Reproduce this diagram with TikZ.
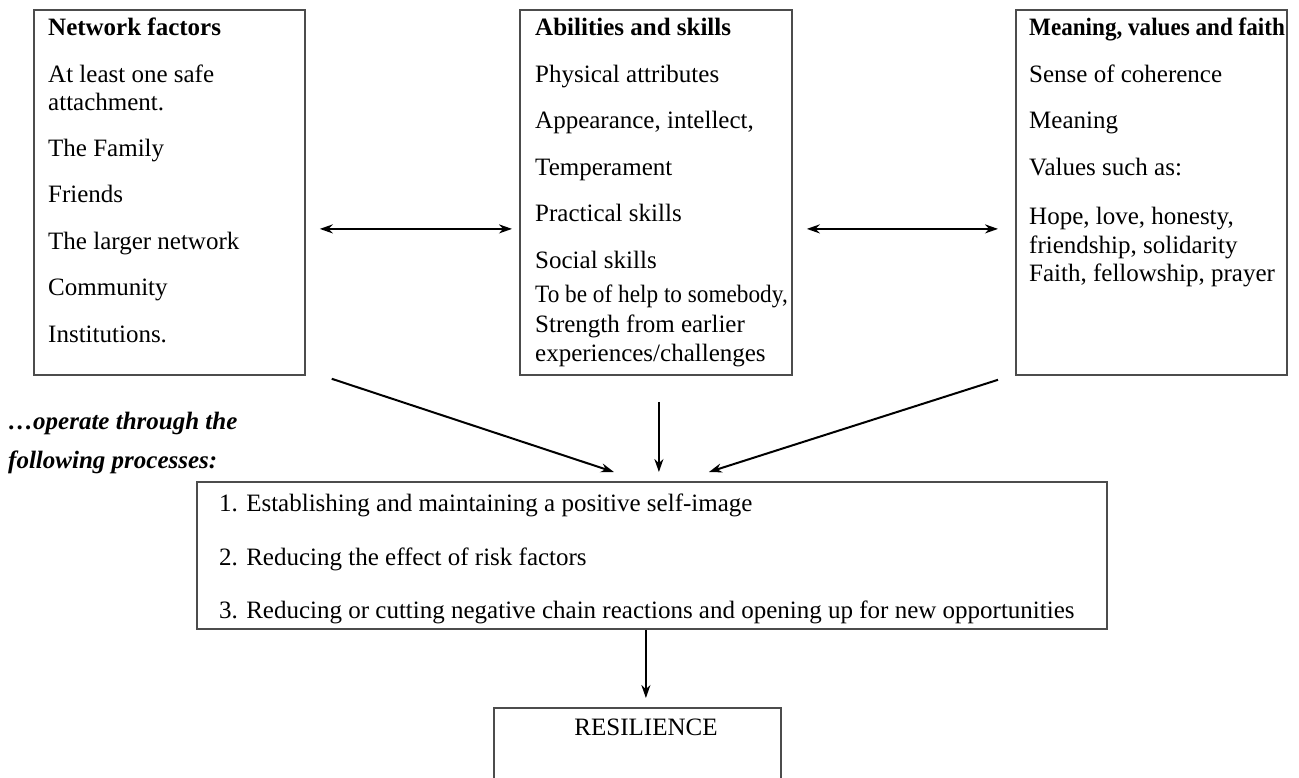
\documentclass[tikz,border=0pt]{standalone}
\usepackage{fontspec}
\setmainfont{Liberation Serif}
\usetikzlibrary{arrows.meta}
\tikzset{
	frame/.style={draw=black!70, line width=1.8pt, inner sep=0pt, anchor=north west},
	boxtext/.style={anchor=north west, inner sep=0pt, align=left},
	arr/.style={line width=2pt, -{Stealth[length=13pt,width=9pt]}},
	darr/.style={line width=2pt, {Stealth[length=13pt,width=9pt]}-{Stealth[length=13pt,width=9pt]}}
}
\begin{document}
\begin{tikzpicture}[x=1pt,y=-1pt,font=\fontsize{25}{28.5}\selectfont]
	\useasboundingbox (0,0) rectangle (1299,777);
	\clip (0,0) rectangle (1299,777);
	\node[frame, minimum width=271pt, minimum height=365pt] (net) at (33,9) {};
	\node[frame, minimum width=272pt, minimum height=365pt] (abil) at (519,9) {};
	\node[frame, minimum width=271pt, minimum height=365pt] (mean) at (1015,9) {};
	\node[frame, minimum width=910pt, minimum height=147pt] (proc) at (196,481) {};
	\node[frame, minimum width=287pt, minimum height=120pt] (res) at (493,707) {};
	\node[boxtext] (nettext) at (48,18) {\textbf{Network factors}\\[18pt] At least one safe\\ attachment.\\[17pt] The Family\\[18pt] Friends\\[18pt] The larger network\\[18pt] Community\\[18pt] Institutions.};
	\node[boxtext] (abiltext) at (535,18) {\textbf{Abilities and skills}\\[18pt] Physical attributes\\[18pt] Appearance, intellect,\\[18pt] Temperament\\[18pt] Practical skills\\[18pt] Social skills\\[6pt] \scalebox{0.93}[1]{To be of help to somebody,}\\[1pt] Strength from earlier\\[1pt] experiences/challenges};
	\node[boxtext] (meantext) at (1029,18) {\scalebox{0.925}[1]{\textbf{Meaning, values and faith}}\\[18pt] Sense of coherence\\[18pt] Meaning\\[18pt] Values such as:\\[21pt] Hope, love, honesty,\\ friendship, solidarity\\ Faith, fellowship, prayer};
	\node[boxtext] (proctext) at (219,494) {1. Establishing and maintaining a positive self-image\\[25pt] 2. Reducing the effect of risk factors\\[25pt] 3. Reducing or cutting negative chain reactions and opening up for new opportunities};
	\node[boxtext] (optext) at (8,412) {\textbf{\textit{…operate through the}}\\[10pt] \textbf{\textit{following processes:}}};
	\node[anchor=base, inner sep=0pt] (restext) at (646,735) {RESILIENCE};
	\draw[darr] ([xshift=14pt,yshift=-36.5pt]net.east) -- ([xshift=-7pt,yshift=-36.5pt]abil.west);
	\draw[darr] ([xshift=14pt,yshift=-36.5pt]abil.east) -- ([xshift=-17pt,yshift=-36.5pt]mean.west);
	\draw[arr] ([xshift=26pt,yshift=-3pt]net.south east) -- ([xshift=-38pt,yshift=9pt]proc.north);
	\draw[arr] ([xshift=3pt,yshift=-26pt]abil.south) -- ([xshift=7pt,yshift=9pt]proc.north);
	\draw[arr] ([xshift=-17pt,yshift=-4pt]mean.south west) -- ([xshift=57pt,yshift=9pt]proc.north);
	\draw[arr] ([xshift=-6pt]proc.south) -- ([xshift=8.5pt,yshift=9pt]res.north);
\end{tikzpicture}
\end{document}
